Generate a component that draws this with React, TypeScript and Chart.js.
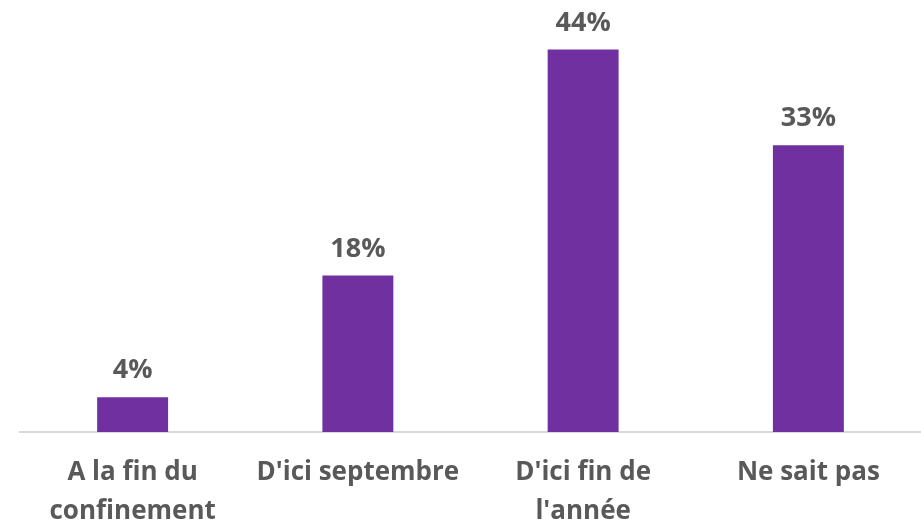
import React, { useEffect, useRef } from "react";
import { Chart, registerables } from "chart.js";

Chart.register(...registerables);

const categories: string[][] = [
  ["A la fin du", "confinement"],
  ["D'ici septembre"],
  ["D'ici fin de", "l'année"],
  ["Ne sait pas"],
];
const values: number[] = [4, 18, 44, 33];
const valueLabels: string[] = ["4%", "18%", "44%", "33%"];

const barColor = "#7030A0";
const textColor = "#595959";
const fontFamily = "'Open Sans', 'DejaVu Sans', sans-serif";

const valueLabelPlugin = {
  id: "valueLabels",
  afterDatasetsDraw(chart: any) {
    const ctx = chart.ctx;
    const meta = chart.getDatasetMeta(0);
    ctx.save();
    ctx.font = `bold 27px ${fontFamily}`;
    ctx.fillStyle = textColor;
    ctx.textAlign = "center";
    ctx.textBaseline = "alphabetic";
    meta.data.forEach((bar: any, i: number) => {
      ctx.fillText(valueLabels[i], bar.x, bar.y - 19);
    });
    ctx.restore();
  },
};

export default function App() {
  const ref = useRef<HTMLCanvasElement | null>(null);
  useEffect(() => {
    if (!ref.current) return;
    const chart = new Chart(ref.current, {
      type: "bar",
      data: {
        labels: categories,
        datasets: [
          {
            data: values,
            backgroundColor: barColor,
            categoryPercentage: 1,
            barPercentage: 0.315,
          },
        ],
      },
      options: {
        animation: false,
        responsive: false,
        maintainAspectRatio: false,
        layout: { padding: { left: 20, right: 0, top: 0, bottom: 0 } },
        plugins: {
          legend: { display: false },
          tooltip: { enabled: false },
        },
        scales: {
          x: {
            grid: { display: false, drawTicks: false },
            border: { display: true, color: "#d9d9d9", width: 2 },
            ticks: {
              color: textColor,
              font: { family: fontFamily, size: 26, weight: "bold", lineHeight: 1.5 },
              padding: 21,
              maxRotation: 0,
              minRotation: 0,
              autoSkip: false,
            },
            afterFit(scale: any) {
              scale.height = 94;
            },
          },
          y: {
            display: false,
            min: 0,
            max: 49.7,
          },
        },
      },
      plugins: [valueLabelPlugin],
    });
    return () => chart.destroy();
  }, []);
  return (
    <div style={{ position: "fixed", left: 0, top: 0, width: 921, height: 526, background: "#fff" }}>
      <canvas ref={ref} width={921} height={526} style={{ display: "block", width: 921, height: 526 }} />
    </div>
  );
}
